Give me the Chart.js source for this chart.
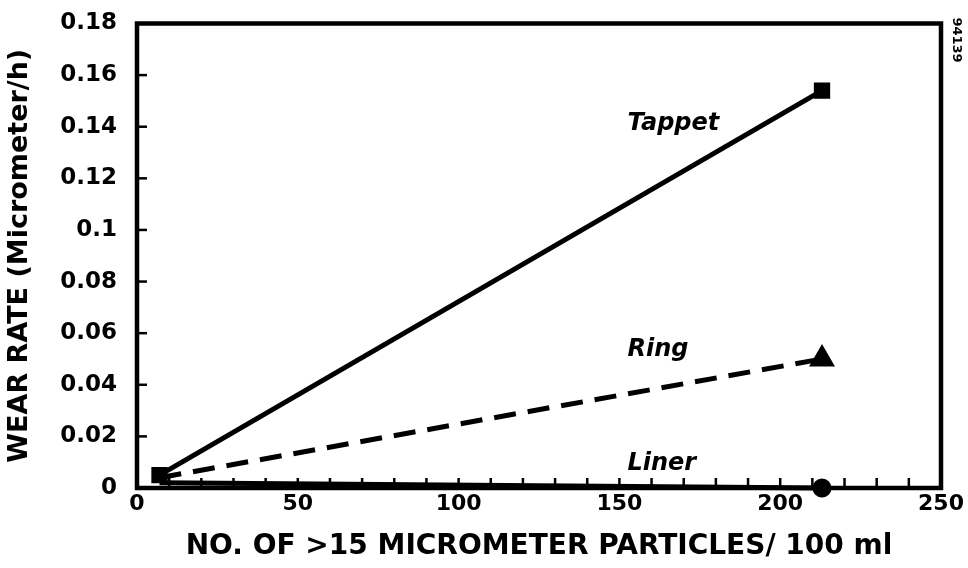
<!DOCTYPE html>
<html>
<head>
<meta charset="utf-8">
<script src="https://cdn.jsdelivr.net/npm/chart.js@4.4.1/dist/chart.umd.min.js"></script>
<style>
  html, body { margin: 0; padding: 0; background: #fff; }
  #wrap { width: 968px; height: 568px; }
</style>
</head>
<body>
<div id="wrap"><canvas id="myChart" width="968" height="568"></canvas></div>
<script>
// particle counts (x) and wear rates (y)
const particles = [7, 213];
const tappet = [0.005, 0.154];
const ring = [0.004, 0.05];
const liner = [0.002, 0];

const seriesNames = ['Tappet', 'Ring', 'Liner'];
// where the series names sit, in data units
const labelX = [152.5, 152.5, 152.5];
const labelY = [0.141, 0.0535, 0.0095];

const yTicks = [0, 0.02, 0.04, 0.06, 0.08, 0.1, 0.12, 0.14, 0.16, 0.18];
const yTickText = ['0', '0.02', '0.04', '0.06', '0.08', '0.1', '0.12', '0.14', '0.16', '0.18'];

const heavy = '"DejaVu Sans", sans-serif';

function pts(ys) {
  return particles.map((x, i) => ({ x: x, y: ys[i] }));
}

const framePlugin = {
  id: 'frame',
  afterDatasetsDraw(chart) {
    const ctx = chart.ctx;
    const a = chart.chartArea;
    const xs = chart.scales.x, ys = chart.scales.y;
    ctx.save();
    ctx.strokeStyle = '#000';
    // inward ticks
    ctx.lineWidth = 2.5;
    for (let v = 10; v < 250; v += 10) {
      const px = xs.getPixelForValue(v);
      ctx.beginPath();
      ctx.moveTo(px, a.bottom);
      ctx.lineTo(px, a.bottom - 10);
      ctx.stroke();
    }
    yTicks.forEach(v => {
      const py = ys.getPixelForValue(v);
      ctx.beginPath();
      ctx.moveTo(a.left, py);
      ctx.lineTo(a.left + 10, py);
      ctx.stroke();
    });
    // box
    ctx.lineWidth = 4.5;
    ctx.strokeRect(a.left, a.top, a.right - a.left, a.bottom - a.top);

    // series names
    ctx.fillStyle = '#000';
    ctx.font = 'italic bold 24px ' + heavy;
    ctx.textAlign = 'left';
    ctx.textBaseline = 'middle';
    seriesNames.forEach((n, i) => {
      ctx.fillText(n, xs.getPixelForValue(labelX[i]), ys.getPixelForValue(labelY[i]));
    });

    // figure number, rotated
    ctx.textAlign = 'center';
    ctx.translate(956, 40);
    ctx.rotate(Math.PI / 2);
    ctx.font = 'bold 13px ' + heavy;
    ctx.fillText('94139', 0, 0);
    ctx.restore();
  }
};

const config = {
  type: 'scatter',
  data: {
    datasets: [{
      label: 'Tappet',
      data: pts(tappet),
      showLine: true,
      borderColor: '#000',
      backgroundColor: '#000',
      borderWidth: 5,
      pointStyle: 'rect',
      pointRadius: 8,
      clip: false
    }, {
      label: 'Ring',
      data: pts(ring),
      showLine: true,
      borderColor: '#000',
      backgroundColor: '#000',
      borderWidth: 5,
      borderDash: [22, 12],
      pointStyle: 'triangle',
      pointRadius: [0, 10],
      clip: false
    }, {
      label: 'Liner',
      data: pts(liner),
      showLine: true,
      borderColor: '#000',
      backgroundColor: '#000',
      borderWidth: 5,
      pointStyle: 'circle',
      pointRadius: [0, 7],
      clip: false
    }]
  },
  options: {
    responsive: false,
    animation: false,
    layout: { padding: { top: 18, right: 27, left: 0, bottom: 0 } },
    plugins: { legend: { display: false }, tooltip: { enabled: false } },
    scales: {
      x: {
        type: 'linear',
        min: 0, max: 250,
        ticks: { stepSize: 50, color: '#000', font: { family: heavy, size: 22, weight: 'bold' }, padding: -5 },
        grid: { display: false },
        border: { display: false },
        title: { display: true, text: 'NO. OF >15 MICROMETER PARTICLES/ 100 ml', color: '#000',
                 font: { family: heavy, size: 28, weight: 'bold' }, padding: { top: 11 } },
        afterFit: s => { s.height = 80; }
      },
      y: {
        type: 'linear',
        min: 0, max: 0.18,
        afterBuildTicks: s => { s.ticks = yTicks.map(v => ({ value: v })); },
        ticks: {
          color: '#000', font: { family: heavy, size: 23, weight: 'bold', lineHeight: 1 }, padding: 12,
          callback: (v, i) => yTickText[i]
        },
        grid: { display: false },
        border: { display: false },
        title: { display: true, text: 'WEAR RATE (Micrometer/h)', color: '#000',
                 font: { family: heavy, size: 27, weight: 'bold' }, padding: { top: 4, bottom: 0 } },
        afterFit: s => { s.width = 137; }
      }
    }
  },
  plugins: [framePlugin]
};

const myChart = new Chart(document.getElementById('myChart'), config);
</script>
</body>
</html>
